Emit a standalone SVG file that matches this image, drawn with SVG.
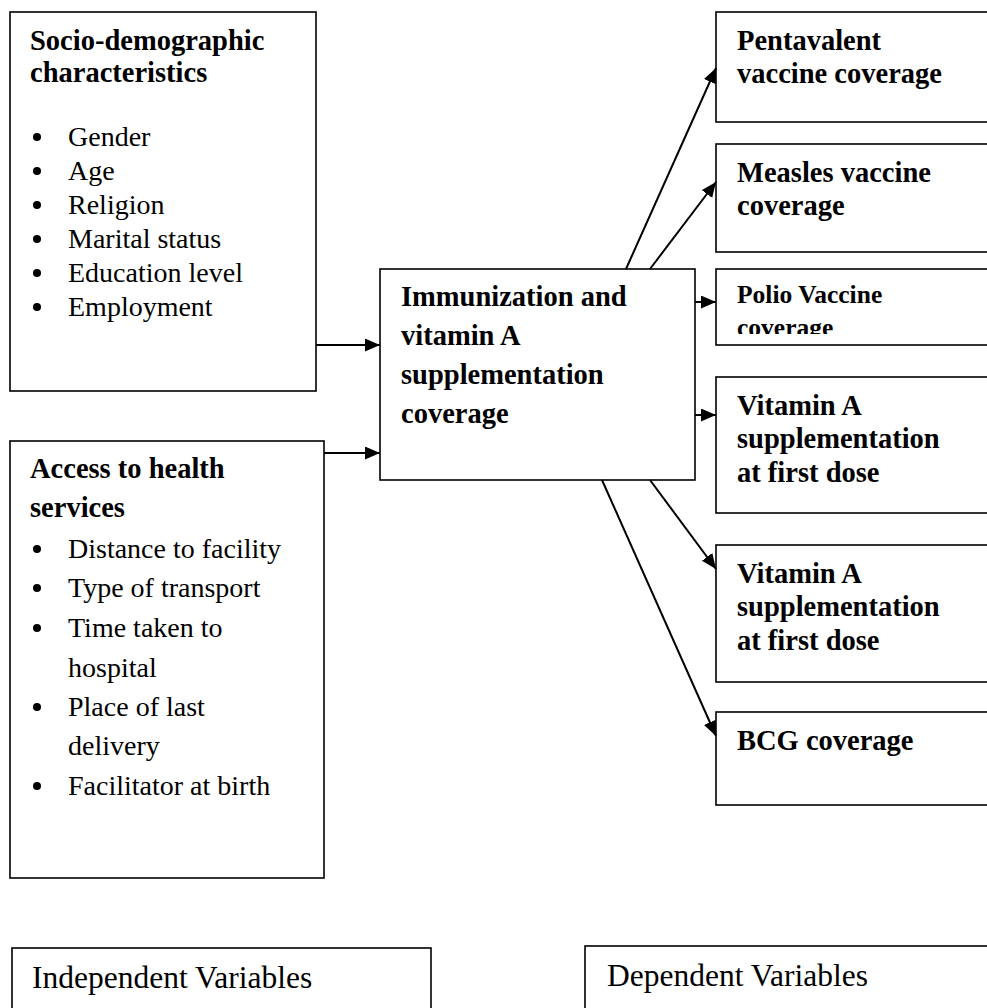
<svg xmlns="http://www.w3.org/2000/svg" width="987" height="1008" viewBox="0 0 987 1008">
<style>
.box{fill:#fff;stroke:#000;stroke-width:1.6}
.b{font-family:"Liberation Serif","Times New Roman",serif;font-weight:bold;font-size:28.5px;fill:#000}
.r{font-family:"Liberation Serif","Times New Roman",serif;font-size:28px;fill:#000}
.lg{font-family:"Liberation Serif","Times New Roman",serif;font-size:31.5px;fill:#000}
.c{stroke:#000;stroke-width:2;fill:none}
</style>
<defs>
<marker id="ah" markerUnits="userSpaceOnUse" markerWidth="16" markerHeight="14" refX="15" refY="6.5" orient="auto">
<path d="M0,0 L15,6.5 L0,13 z" fill="#000"/>
</marker>
<clipPath id="polioClip"><rect x="716" y="269" width="280" height="65"/></clipPath>
</defs>
<rect width="987" height="1008" fill="#fff"/>

<g id="socio">
<rect class="box" x="10" y="12" width="306" height="379"/>
<text class="b" x="30" y="50">Socio-demographic</text>
<text class="b" x="30" y="82">characteristics</text>
<g fill="#000"><circle cx="37" cy="137" r="4"/><circle cx="37" cy="171" r="4"/><circle cx="37" cy="205" r="4"/><circle cx="37" cy="239" r="4"/><circle cx="37" cy="273" r="4"/><circle cx="37" cy="307" r="4"/></g>
<text class="r" x="68" y="146">Gender</text>
<text class="r" x="68" y="180">Age</text>
<text class="r" x="68" y="214">Religion</text>
<text class="r" x="68" y="248">Marital status</text>
<text class="r" x="68" y="282">Education level</text>
<text class="r" x="68" y="316">Employment</text>
</g>

<g id="access">
<rect class="box" x="10" y="441" width="314" height="437"/>
<text class="b" x="30" y="478">Access to health</text>
<text class="b" x="30" y="517">services</text>
<g fill="#000"><circle cx="37" cy="549" r="4"/><circle cx="37" cy="588" r="4"/><circle cx="37" cy="628" r="4"/><circle cx="37" cy="707" r="4"/><circle cx="37" cy="786" r="4"/></g>
<text class="r" x="68" y="558">Distance to facility</text>
<text class="r" x="68" y="597">Type of transport</text>
<text class="r" x="68" y="637">Time taken to</text>
<text class="r" x="68" y="677">hospital</text>
<text class="r" x="68" y="716">Place of last</text>
<text class="r" x="68" y="755">delivery</text>
<text class="r" x="68" y="795">Facilitator at birth</text>
</g>

<g id="main">
<rect class="box" x="380" y="269" width="315" height="211"/>
<text class="b" x="401" y="306">Immunization and</text>
<text class="b" x="401" y="345">vitamin A</text>
<text class="b" x="401" y="384">supplementation</text>
<text class="b" x="401" y="423">coverage</text>
</g>

<g id="pentavalent">
<rect class="box" x="716" y="12" width="280" height="110"/>
<text class="b" x="737" y="50">Pentavalent</text>
<text class="b" x="737" y="83">vaccine coverage</text>
</g>

<g id="measles">
<rect class="box" x="716" y="144" width="280" height="108"/>
<text class="b" x="737" y="182">Measles vaccine</text>
<text class="b" x="737" y="215">coverage</text>
</g>

<g id="polio">
<rect class="box" x="716" y="269" width="280" height="76"/>
<g clip-path="url(#polioClip)">
<text class="b" x="737" y="303" style="font-size:25.5px">Polio Vaccine</text>
<text class="b" x="737" y="336" style="font-size:25.5px">coverage</text>
</g>
</g>

<g id="vitA1">
<rect class="box" x="716" y="377" width="280" height="136"/>
<text class="b" x="737" y="415">Vitamin A</text>
<text class="b" x="737" y="448">supplementation</text>
<text class="b" x="737" y="482">at first dose</text>
</g>

<g id="vitA2">
<rect class="box" x="716" y="545" width="280" height="137"/>
<text class="b" x="737" y="583">Vitamin A</text>
<text class="b" x="737" y="616">supplementation</text>
<text class="b" x="737" y="650">at first dose</text>
</g>

<g id="bcg">
<rect class="box" x="716" y="712" width="280" height="93"/>
<text class="b" x="737" y="750">BCG coverage</text>
</g>

<g id="indep">
<rect class="box" x="12" y="948" width="419" height="80"/>
<text class="lg" x="32" y="988">Independent Variables</text>
</g>

<g id="dep">
<rect class="box" x="585" y="946" width="420" height="80"/>
<text class="lg" x="607" y="986">Dependent Variables</text>
</g>

<g id="connectors">
<line class="c" x1="316" y1="345" x2="380" y2="345" marker-end="url(#ah)"/>
<line class="c" x1="324" y1="453" x2="380" y2="453" marker-end="url(#ah)"/>
<line class="c" x1="626" y1="269" x2="716" y2="68" marker-end="url(#ah)"/>
<line class="c" x1="650" y1="269" x2="716" y2="182" marker-end="url(#ah)"/>
<line class="c" x1="695" y1="302" x2="716" y2="302" marker-end="url(#ah)"/>
<line class="c" x1="695" y1="415" x2="716" y2="415" marker-end="url(#ah)"/>
<line class="c" x1="650" y1="480" x2="716" y2="569" marker-end="url(#ah)"/>
<line class="c" x1="602" y1="480" x2="716" y2="736" marker-end="url(#ah)"/>
</g>
</svg>
